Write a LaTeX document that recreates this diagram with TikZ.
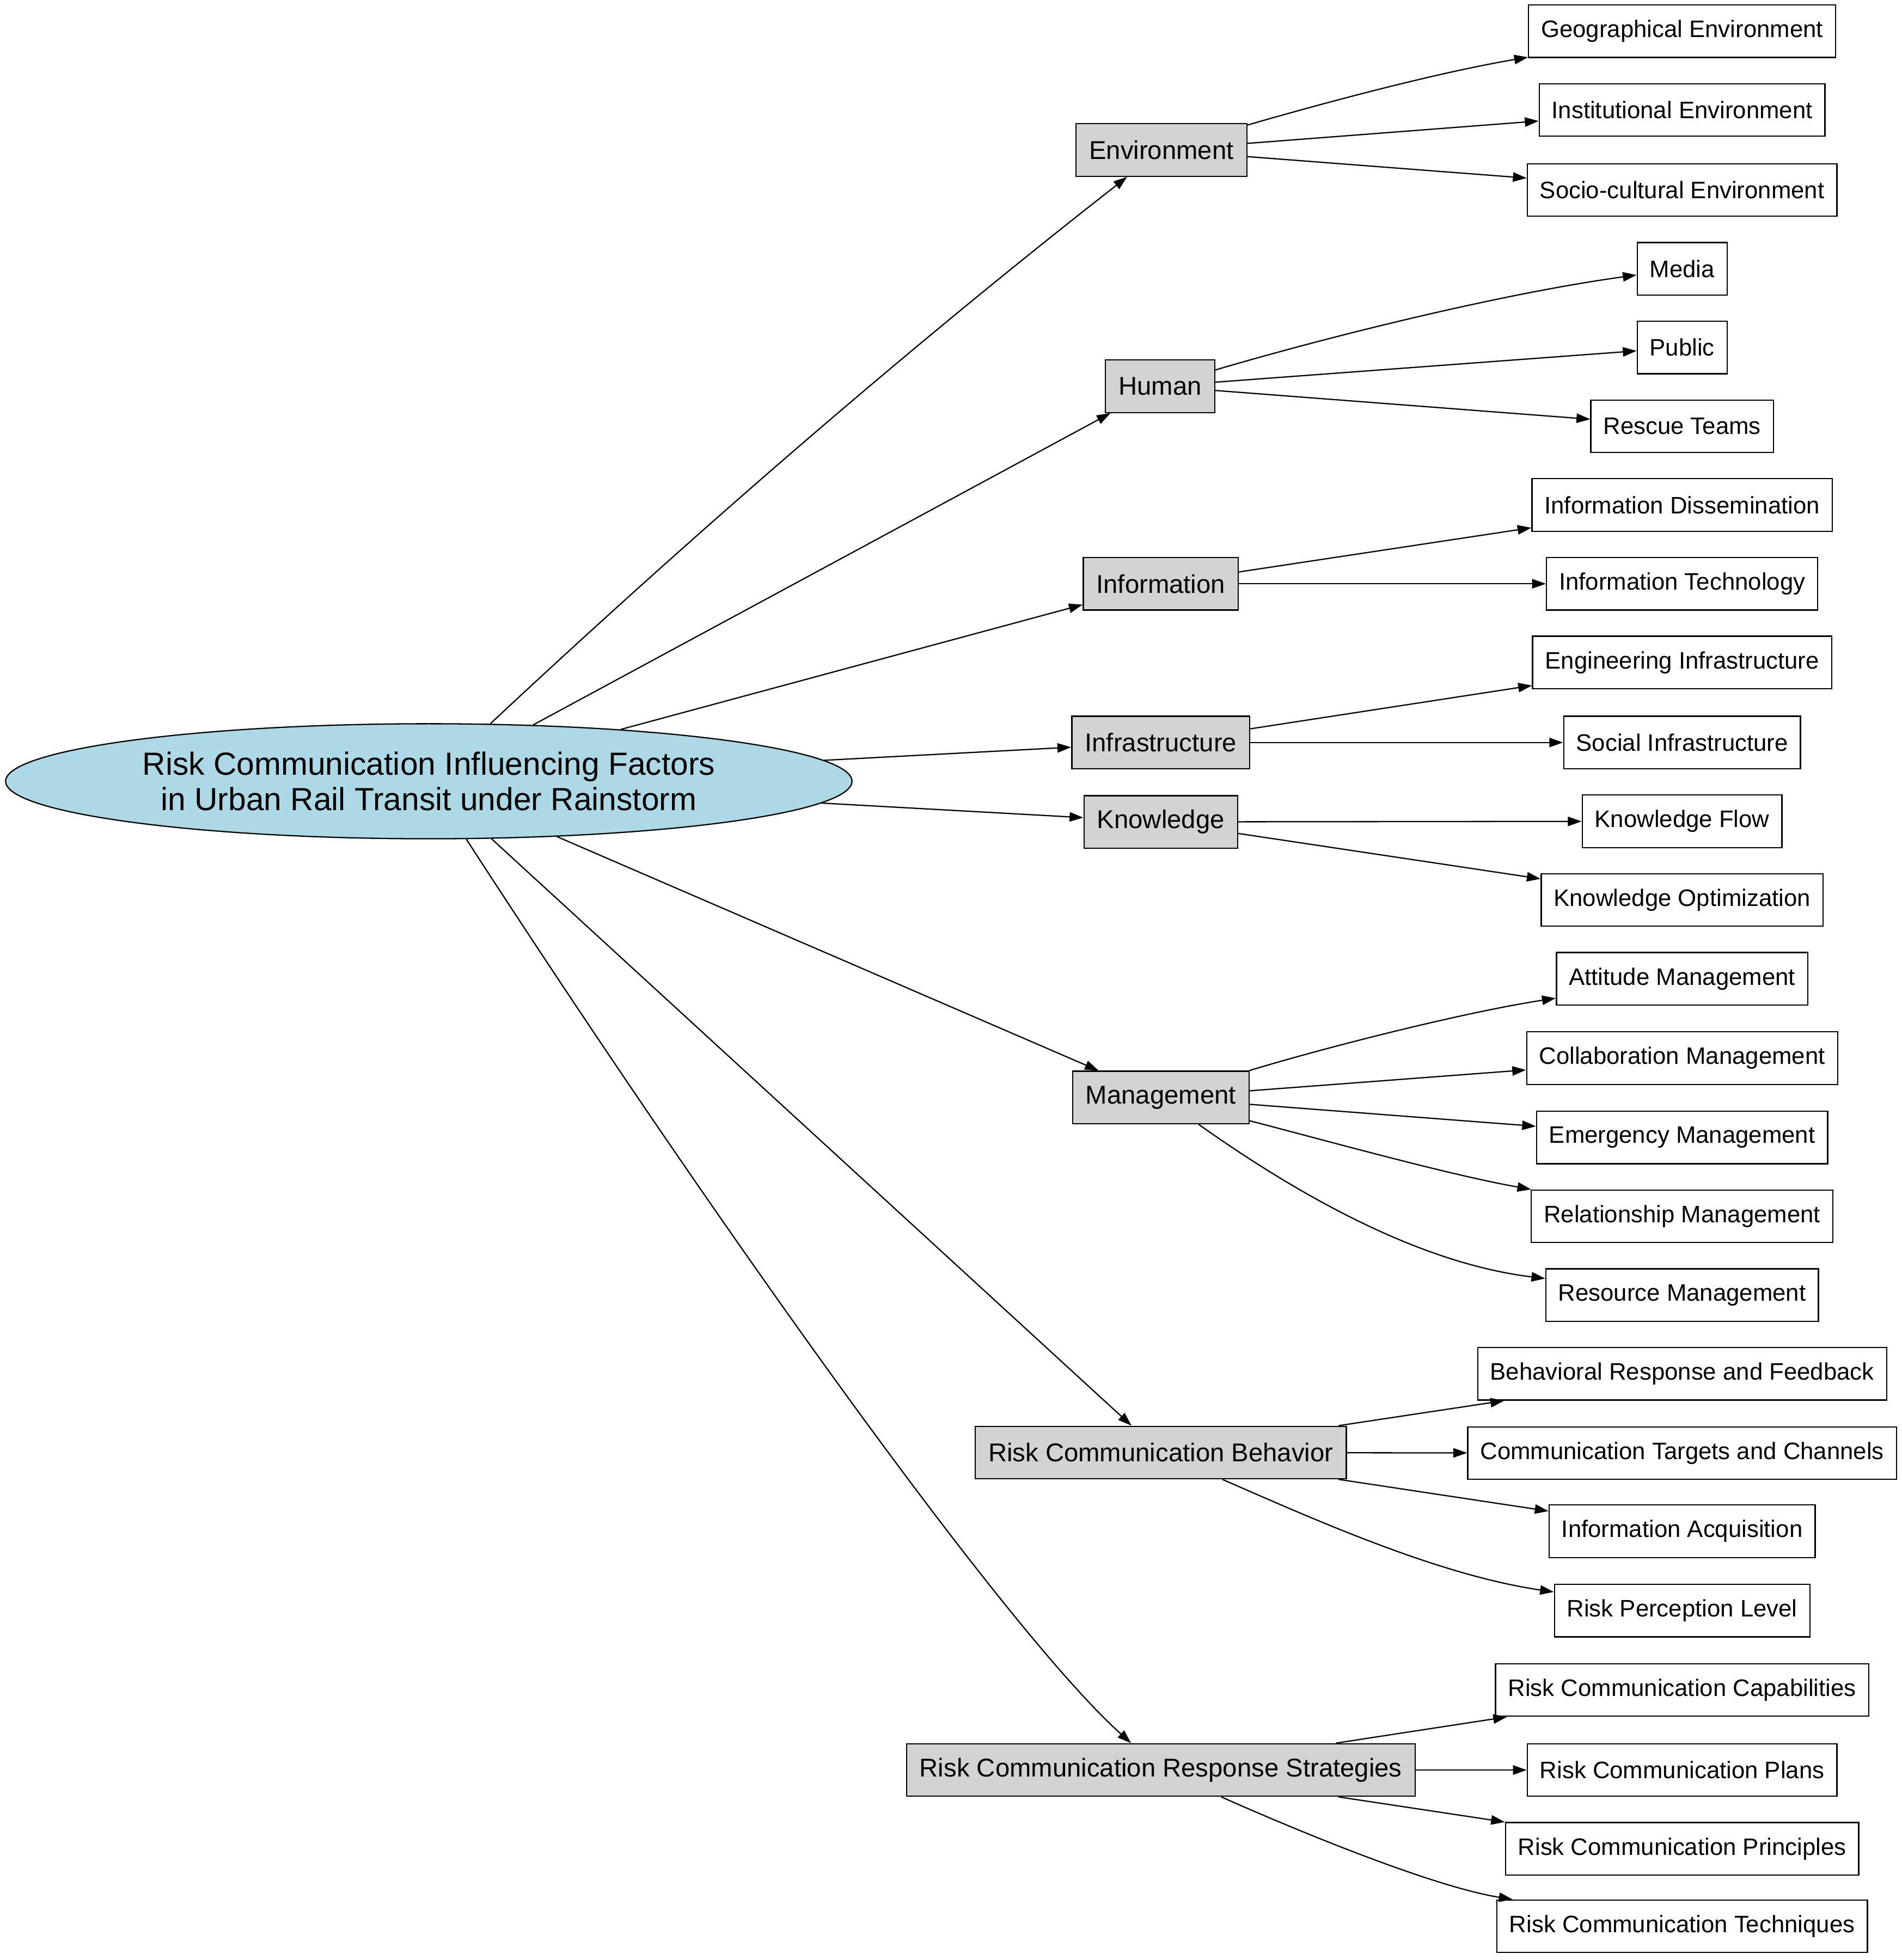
\documentclass[tikz,border=0pt]{standalone}
\usepackage{fontspec}
\setmainfont{Liberation Sans}
\usetikzlibrary{shapes.geometric,arrows.meta}
\definecolor{catgray}{RGB}{211,211,211}
\definecolor{mainblue}{RGB}{173,216,230}
\begin{document}
\begin{tikzpicture}[x=1pt,y=-1pt,
  mainnode/.style={ellipse, draw, fill=mainblue, line width=1pt, minimum width=677pt, minimum height=92pt, inner sep=0pt, align=center, font=\fontsize{25.6}{28.5}\selectfont},
  cat/.style={draw, fill=catgray, line width=1pt, minimum height=42pt, inner xsep=10.5pt, inner ysep=0pt, font=\fontsize{20.6}{24}\selectfont},
  leaf/.style={draw, fill=white, line width=1pt, minimum height=42pt, inner xsep=10pt, inner ysep=0pt, font=\fontsize{19.05}{22}\selectfont},
  conn/.style={line width=1pt, -{Triangle[length=11pt,width=7.5pt]}},
]
\path[use as bounding box] (0,0) rectangle (1521,1568);

\node[mainnode] (main) at (343,625) {Risk Communication Influencing Factors\\in Urban Rail Transit under Rainstorm};

\node[cat] (env) at (929,120) {Environment};
\node[cat] (hum) at (928,309) {Human};
\node[cat] (inf) at (928.5,467) {Information};
\node[cat] (infra) at (928.5,594) {Infrastructure};
\node[cat] (kno) at (928.5,657.5) {Knowledge};
\node[cat] (man) at (928.5,878) {Management};
\node[cat] (rcb) at (928.5,1162) {Risk Communication Behavior};
\node[cat] (rcrs) at (928.5,1416) {Risk Communication Response Strategies};

\node[leaf] (geo) at (1345.5,25) {Geographical Environment};
\node[leaf] (ins) at (1345.5,88) {Institutional Environment};
\node[leaf] (soc) at (1345.5,152) {Socio-cultural Environment};
\node[leaf] (med) at (1345.5,215) {Media};
\node[leaf] (pub) at (1345.5,278) {Public};
\node[leaf] (res) at (1345.5,341) {Rescue Teams};
\node[leaf] (dis) at (1345.5,404) {Information Dissemination};
\node[leaf] (tec) at (1345.5,467) {Information Technology};
\node[leaf] (eng) at (1345.5,530) {Engineering Infrastructure};
\node[leaf] (sin) at (1345.5,594) {Social Infrastructure};
\node[leaf] (kfl) at (1345.5,657) {Knowledge Flow};
\node[leaf] (kop) at (1345.5,720) {Knowledge Optimization};
\node[leaf] (att) at (1345.5,783) {Attitude Management};
\node[leaf] (col) at (1345.5,846.5) {Collaboration Management};
\node[leaf] (eme) at (1345.5,910) {Emergency Management};
\node[leaf] (rel) at (1345.5,973) {Relationship Management};
\node[leaf] (rma) at (1345.5,1036) {Resource Management};
\node[leaf] (beh) at (1345.5,1099) {Behavioral Response and Feedback};
\node[leaf] (ctc) at (1345.5,1162.5) {Communication Targets and Channels};
\node[leaf] (iac) at (1345.5,1225) {Information Acquisition};
\node[leaf] (rpl) at (1345.5,1288.5) {Risk Perception Level};
\node[leaf] (rcc) at (1345.5,1352) {Risk Communication Capabilities};
\node[leaf] (rcp) at (1345.5,1416) {Risk Communication Plans};
\node[leaf] (rcpr) at (1345.5,1479) {Risk Communication Principles};
\node[leaf] (rct) at (1345.5,1541) {Risk Communication Techniques};

% main to categories
\draw[conn] (main) .. controls (558,424) and (727,278) .. (env);
\draw[conn] (main) -- (hum);
\draw[conn] (main) -- (inf);
\draw[conn] (main) -- (infra);
\draw[conn] (main) -- (kno);
\draw[conn] (main) -- (man);
\draw[conn] (main) -- (rcb);
\draw[conn] (main) .. controls (560,960) and (800,1300) .. (rcrs);

% categories to leaves
\draw[conn] (env) .. controls (1060,82) and (1150,58) .. (geo);
\draw[conn] (env) -- (ins);
\draw[conn] (env) -- (soc);
\draw[conn] (hum) .. controls (1060,270) and (1200,235) .. (med);
\draw[conn] (hum) -- (pub);
\draw[conn] (hum) -- (res);
\draw[conn] (inf) -- (dis);
\draw[conn] (inf) -- (tec);
\draw[conn] (infra) -- (eng);
\draw[conn] (infra) -- (sin);
\draw[conn] (kno) -- (kfl);
\draw[conn] (kno) -- (kop);
\draw[conn] (man) .. controls (1060,838) and (1170,810) .. (att);
\draw[conn] (man) -- (col);
\draw[conn] (man) -- (eme);
\draw[conn] (man) .. controls (1070,915) and (1160,940) .. (rel);
\draw[conn] (man) .. controls (1030,950) and (1130,1010) .. (rma);
\draw[conn] (rcb) -- (beh);
\draw[conn] (rcb) -- (ctc);
\draw[conn] (rcb) -- (iac);
\draw[conn] (rcb) .. controls (1050,1215) and (1150,1260) .. (rpl);
\draw[conn] (rcrs) -- (rcc);
\draw[conn] (rcrs) -- (rcp);
\draw[conn] (rcrs) -- (rcpr);
\draw[conn] (rcrs) .. controls (1050,1470) and (1150,1510) .. (rct);
\end{tikzpicture}
\end{document}
